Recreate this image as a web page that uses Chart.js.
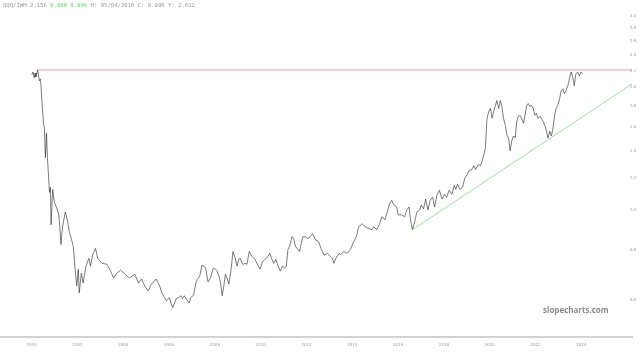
<!DOCTYPE html>
<html>
<head>
<meta charset="utf-8">
<script src="https://cdn.jsdelivr.net/npm/chart.js@4/dist/chart.umd.min.js"></script>
<style>
  html, body { margin: 0; padding: 0; background: #ffffff; overflow: hidden; }
  #wrap { position: relative; width: 640px; height: 357px; }
  #c { position: absolute; left: 0; top: 0; }
  #title { position: absolute; left: 3px; top: 2px; font-family: "DejaVu Sans Mono", monospace; font-size: 5.6px; line-height: 7px; color: #999999; white-space: pre; }
  #title .g { color: #66cc66; }
  #wm { position: absolute; left: 543px; top: 304px; font-family: "Open Sans", "DejaVu Sans", sans-serif; font-weight: bold; font-size: 8px; line-height: 11px; color: #8a8a8a; white-space: pre; }
</style>
</head>
<body>
<div id="wrap">
  <canvas id="c" width="640" height="357"></canvas>
  <div id="title">QQQ/IWM 2.156 <span class="g">0.000 0.00%</span> H: 05/04/2016 C: 0.996 Y: 2.612</div>
  <div id="wm">slopecharts.com</div>
</div>
<script>
// ---- data (decimal years, ratio values) ----
const years = [
  2000.01,2000.06,2000.11,2000.15,2000.19,2000.26,2000.30,2000.34,2000.39,2000.43,
  2000.47,2000.52,2000.56,2000.60,2000.65,2000.69,2000.73,2000.78,2000.82,2000.85,
  2000.92,2000.99,2001.08,2001.18,2001.23,2001.28,2001.35,2001.47,2001.56,2001.64,
  2001.71,2001.82,2001.90,2001.97,2002.04,2002.08,2002.17,2002.25,2002.37,2002.50,
  2002.57,2002.67,2002.79,2002.89,2003.07,2003.29,2003.45,2003.58,2003.72,2003.88,
  2004.08,2004.27,2004.51,2004.66,2004.80,2004.94,2005.09,2005.23,2005.44,2005.59,
  2005.70,2005.81,2005.88,2006.02,2006.09,2006.16,2006.24,2006.31,2006.41,2006.52,
  2006.59,2006.67,2006.81,2006.88,2006.95,2007.07,2007.17,2007.24,2007.34,2007.43,
  2007.53,2007.60,2007.70,2007.81,2007.93,2008.03,2008.10,2008.18,2008.25,2008.32,
  2008.39,2008.46,2008.53,2008.61,2008.71,2008.79,2008.89,2008.97,2009.04,2009.11,
  2009.18,2009.25,2009.32,2009.40,2009.50,2009.61,2009.75,2009.90,2009.97,2010.09,
  2010.19,2010.33,2010.40,2010.47,2010.57,2010.66,2010.76,2010.86,2010.95,2011.05,
  2011.12,2011.19,2011.26,2011.37,2011.44,2011.52,2011.63,2011.69,2011.77,2011.84,
  2011.95,2012.06,2012.16,2012.27,2012.38,2012.53,2012.63,2012.77,2012.92,2013.03,
  2013.13,2013.20,2013.28,2013.42,2013.49,2013.63,2013.78,2013.92,2014.06,2014.18,
  2014.28,2014.43,2014.57,2014.71,2014.86,2014.93,2015.07,2015.19,2015.29,2015.43,
  2015.50,2015.62,2015.72,2015.82,2015.94,2016.00,2016.15,2016.29,2016.37,2016.48,
  2016.54,2016.63,2016.72,2016.82,2016.94,2017.01,2017.11,2017.20,2017.30,2017.40,
  2017.51,2017.59,2017.69,2017.80,2017.92,2018.02,2018.12,2018.23,2018.35,2018.45,
  2018.52,2018.59,2018.69,2018.81,2018.92,2019.02,2019.10,2019.21,2019.31,2019.38,
  2019.50,2019.60,2019.67,2019.74,2019.81,2019.88,2019.96,2020.03,2020.10,2020.17,
  2020.25,2020.31,2020.39,2020.46,2020.53,2020.60,2020.68,2020.75,2020.82,2020.89,
  2020.96,2021.03,2021.11,2021.18,2021.25,2021.32,2021.39,2021.47,2021.54,2021.61,
  2021.68,2021.75,2021.82,2021.90,2021.97,2022.04,2022.11,2022.19,2022.25,2022.33,
  2022.40,2022.47,2022.54,2022.62,2022.69,2022.76,2022.83,2022.90,2022.97,2023.05,
  2023.12,2023.19,2023.26,2023.33,2023.41,2023.48,2023.55,2023.62,2023.69,2023.76,
  2023.84,2023.91,2023.98,2024.05
];
const ratio = [
  2.145,2.181,2.110,2.169,2.121,2.206,2.145,2.075,2.098,1.930,
  1.775,1.633,1.588,1.344,1.544,1.344,1.236,1.105,1.137,0.920,
  1.124,1.046,1.017,0.978,0.910,0.823,0.910,0.989,0.946,0.885,
  0.860,0.814,0.716,0.651,0.716,0.626,0.700,0.662,0.728,0.761,
  0.728,0.778,0.805,0.761,0.740,0.736,0.708,0.681,0.700,0.712,
  0.696,0.681,0.696,0.662,0.677,0.651,0.633,0.658,0.677,0.651,
  0.623,0.609,0.599,0.609,0.589,0.576,0.592,0.606,0.609,0.616,
  0.606,0.616,0.599,0.592,0.609,0.619,0.662,0.677,0.688,0.732,
  0.728,0.720,0.666,0.681,0.720,0.716,0.708,0.688,0.662,0.616,
  0.651,0.696,0.681,0.658,0.716,0.791,0.761,0.728,0.757,0.761,
  0.740,0.736,0.740,0.736,0.791,0.770,0.757,0.728,0.716,0.748,
  0.757,0.770,0.783,0.761,0.740,0.757,0.728,0.708,0.728,0.720,
  0.728,0.800,0.814,0.860,0.851,0.814,0.800,0.791,0.827,0.860,
  0.860,0.851,0.860,0.875,0.846,0.837,0.805,0.774,0.783,0.770,
  0.761,0.740,0.761,0.783,0.778,0.791,0.783,0.800,0.837,0.860,
  0.910,0.925,0.910,0.900,0.895,0.910,0.895,0.925,0.962,0.946,
  0.978,1.034,1.057,1.028,1.017,0.973,0.973,0.962,1.000,1.017,
  0.946,0.895,0.935,0.989,1.000,1.028,1.006,1.063,1.000,1.057,
  1.075,1.017,1.087,1.118,1.063,1.093,1.075,1.118,1.093,1.149,
  1.124,1.156,1.124,1.137,1.202,1.222,1.250,1.257,1.285,1.257,
  1.292,1.285,1.321,1.366,1.420,1.679,1.746,1.775,1.679,1.746,
  1.805,1.856,1.775,1.856,1.795,1.679,1.615,1.527,1.502,1.397,
  1.477,1.519,1.502,1.651,1.698,1.707,1.679,1.633,1.707,1.805,
  1.825,1.795,1.805,1.775,1.707,1.726,1.679,1.698,1.679,1.651,
  1.615,1.570,1.502,1.562,1.519,1.588,1.707,1.775,1.805,1.877,
  1.962,1.984,1.930,1.962,2.018,2.098,2.181,2.121,2.018,2.157,
  2.181,2.133,2.181,2.157
];
// horizontal resistance line (red) and rising support line (green)
const resistYears = [2000.26, 2026.21];
const resistValues = [2.206, 2.206];
const supportYears = [2016.63, 2026.21];
const supportValues = [0.895, 2.040];
// tick labels
const xTickYears = [2000,2002,2004,2006,2008,2010,2012,2014,2016,2018,2020,2022,2024];
const yTickValues = [0.6,0.8,1.0,1.2,1.4,1.6,1.8,2.0,2.2,2.4,2.6,2.8,3.0];
const xRange = [1998.62, 2026.21];
const yRange = [0.4874, 3.276];

const toPts = (xs, ys) => xs.map((x, i) => ({ x: x, y: ys[i] }));

new Chart(document.getElementById('c'), {
  type: 'line',
  data: {
    datasets: [
      { data: toPts(years, ratio), borderColor: '#333333', borderWidth: 0.65, pointRadius: 0, tension: 0, order: 1 },
      { data: toPts(resistYears, resistValues), borderColor: '#ef8f8f', borderWidth: 0.9, pointRadius: 0, order: 2 },
      { data: toPts(supportYears, supportValues), borderColor: '#8fdc8f', borderWidth: 0.9, pointRadius: 0, order: 3 }
    ]
  },
  options: {
    responsive: false,
    animation: false,
    events: [],
    layout: { padding: { left: 0, right: 0, top: 0, bottom: 5 } },
    plugins: { legend: { display: false }, tooltip: { enabled: false }, title: { display: false } },
    scales: {
      x: {
        type: 'linear',
        min: xRange[0],
        max: xRange[1],
        grid: { display: false, drawTicks: false },
        border: { display: true, color: '#d2d2d2', width: 2 },
        afterBuildTicks: s => { s.ticks = xTickYears.map(v => ({ value: v })); },
        afterFit: s => { s.paddingLeft = 0; s.paddingRight = 0; },
        ticks: {
          autoSkip: false, maxRotation: 0, padding: 5,
          color: '#9a9a9a', font: { family: 'DejaVu Sans', size: 4 },
          callback: v => String(v)
        }
      },
      y: {
        type: 'logarithmic',
        position: 'right',
        min: yRange[0],
        max: yRange[1],
        grid: { display: false, drawTicks: false },
        border: { display: false },
        afterBuildTicks: s => { s.ticks = yTickValues.map(v => ({ value: v })); },
        afterFit: s => { s.paddingTop = 0; s.paddingBottom = 0; },
        ticks: {
          mirror: true, padding: 4,
          color: '#9a9a9a', font: { family: 'DejaVu Sans', size: 4 },
          callback: v => Number(v).toFixed(1)
        }
      }
    }
  }
});
</script>
</body>
</html>
